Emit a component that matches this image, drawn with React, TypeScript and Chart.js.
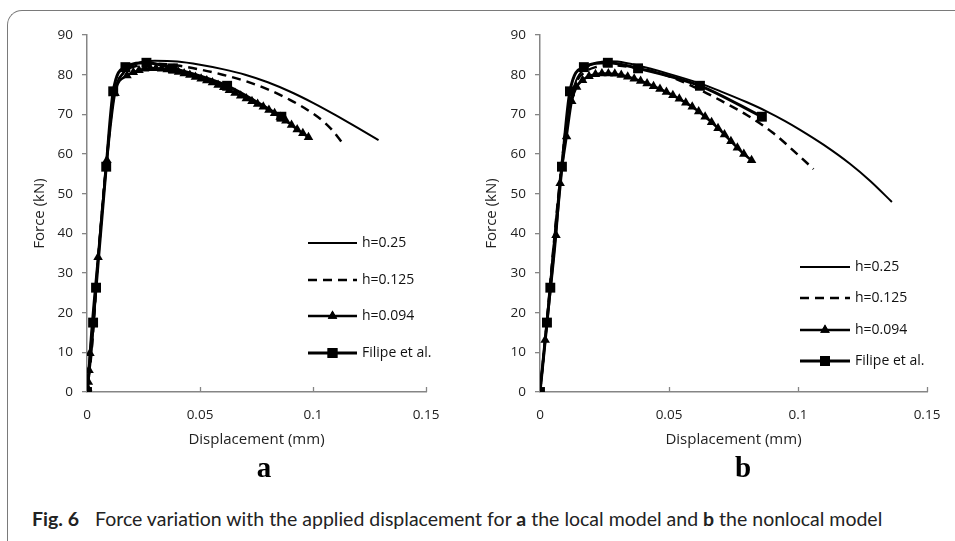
import React, { useEffect, useRef } from 'react';
import { Chart, registerables } from 'chart.js';
import { drawPoint } from 'chart.js/helpers';

Chart.register(...registerables);

// ---------- tick labels & names ----------
const xTickLabels = ['0', '0.05', '0.1', '0.15'];
const yTickLabels = ['0', '10', '20', '30', '40', '50', '60', '70', '80', '90'];
const seriesNames = ['h=0.25', 'h=0.125', 'h=0.094', 'Filipe et al.'];

// ---------- experimental (Filipe et al.) ----------
const filipeX = [0, 0.0027, 0.004, 0.0085, 0.0116, 0.017, 0.0263, 0.038, 0.062, 0.086];
const filipeY = [0, 17.5, 26.3, 56.8, 75.8, 81.9, 83.0, 81.6, 77.2, 69.4];

// ---------- (a) local model ----------
const aH025X = [0, 0.002, 0.005, 0.0085, 0.012, 0.016, 0.022, 0.03, 0.04, 0.05, 0.06, 0.07, 0.08, 0.09, 0.1, 0.11, 0.12, 0.129];
const aH025Y = [0, 10, 34, 57.5, 75, 80.5, 82.8, 83.5, 83.3, 82.5, 81.4, 80.0, 78.1, 75.7, 72.9, 69.8, 66.5, 63.5];

const aH0125X = [0, 0.002, 0.005, 0.0085, 0.012, 0.016, 0.022, 0.03, 0.04, 0.05, 0.06, 0.07, 0.08, 0.09, 0.1, 0.105, 0.109, 0.113];
const aH0125Y = [0, 10, 34, 57.5, 75, 80.3, 82.2, 82.8, 82.3, 81.3, 80.0, 78.4, 76.3, 73.6, 70.2, 68.0, 65.7, 62.8];

const aH0094X = [0, 0.0003, 0.0006, 0.0009, 0.0013, 0.0049, 0.0088, 0.0124, 0.0177, 0.0205, 0.023, 0.0255, 0.028, 0.0305, 0.033, 0.0355, 0.038, 0.0405, 0.043, 0.0455, 0.048, 0.0505, 0.053, 0.0555, 0.058, 0.0605, 0.063, 0.0655, 0.068, 0.0705, 0.073, 0.0755, 0.078, 0.0805, 0.083, 0.0855, 0.088, 0.0905, 0.093, 0.0955, 0.098];
const aH0094Y = [0, 1, 2.5, 5.5, 9.8, 34, 58.4, 75.3, 79.8, 80.6, 81.1, 81.5, 81.6, 81.6, 81.5, 81.3, 81.0, 80.7, 80.3, 79.9, 79.4, 79.0, 78.5, 78.0, 77.4, 76.8, 76.1, 75.4, 74.7, 74.0, 73.3, 72.6, 71.9, 71.1, 70.3, 69.3, 68.4, 67.3, 66.2, 65.2, 64.2];

// ---------- (b) nonlocal model ----------
const bH025X = [0, 0.002, 0.005, 0.008, 0.011, 0.014, 0.018, 0.022, 0.026, 0.03, 0.038, 0.05, 0.062, 0.07, 0.08, 0.088, 0.095, 0.1008, 0.11, 0.12, 0.128, 0.1364];
const bH025Y = [0, 13, 35, 55, 71, 78.5, 81.8, 83.0, 83.4, 83.3, 82.3, 80.2, 77.8, 75.8, 73.1, 70.7, 68.3, 66.1, 62.3, 57.6, 53.2, 47.9];

const bH0125X = [0, 0.002, 0.005, 0.008, 0.011, 0.014, 0.018, 0.022, 0.026, 0.03, 0.04, 0.05, 0.06, 0.07, 0.08, 0.09, 0.1, 0.106];
const bH0125Y = [0, 13, 35, 55, 71, 78, 80.9, 82.0, 82.4, 82.3, 81.4, 79.6, 76.8, 73.5, 69.9, 65.5, 59.8, 56.2];

const bH0094X = [0, 0.002, 0.0062, 0.0078, 0.0103, 0.0123, 0.0142, 0.0165, 0.019, 0.0215, 0.024, 0.0265, 0.029, 0.0315, 0.034, 0.0365, 0.039, 0.0415, 0.044, 0.0465, 0.049, 0.0515, 0.054, 0.0565, 0.059, 0.0615, 0.064, 0.0665, 0.069, 0.0715, 0.074, 0.0765, 0.079, 0.082];
const bH0094Y = [0, 13.1, 39.5, 52.6, 64.4, 73.3, 76.9, 78.6, 79.6, 80.1, 80.3, 80.3, 80.2, 79.9, 79.5, 79.0, 78.4, 77.8, 77.1, 76.4, 75.6, 74.8, 73.9, 72.9, 71.9, 70.7, 69.4, 68.0, 66.5, 64.9, 63.2, 61.6, 60.0, 58.4];

const AXIS = '#858585';
const FONT = "'Open Sans', sans-serif";
const CANVAS_TOP = 18;
const CANVAS_H = 437;

const pts = (xs: number[], ys: number[]) => xs.map((x, i) => ({ x, y: ys[i] }));

const xInnerTicks = {
  id: 'xInnerTicks',
  afterDraw(chart: any) {
    const xs = chart.scales.x;
    const ctx = chart.ctx;
    const b = chart.chartArea.bottom;
    ctx.save();
    ctx.strokeStyle = AXIS;
    ctx.lineWidth = 1.3;
    xs.ticks.forEach((t: any) => {
      if (t.value === 0) return;
      const px = Math.round(xs.getPixelForValue(t.value)) + 0.5;
      ctx.beginPath();
      ctx.moveTo(px, b);
      ctx.lineTo(px, b - 5);
      ctx.stroke();
    });
    ctx.restore();
  },
};

const customLegend = {
  id: 'customLegend',
  afterDraw(chart: any, _args: any, opts: any) {
    const { ctx, chartArea } = chart;
    ctx.save();
    chart.data.datasets.forEach((ds: any, i: number) => {
      const y = Math.round(chartArea.top + opts.dy + i * opts.gap);
      const x0 = chartArea.left + opts.dx;
      const x1 = x0 + opts.len;
      ctx.strokeStyle = '#000';
      ctx.lineWidth = ds.borderWidth;
      ctx.setLineDash(ds.borderDash || []);
      ctx.beginPath();
      ctx.moveTo(x0, y);
      ctx.lineTo(x1, y);
      ctx.stroke();
      ctx.setLineDash([]);
      if (ds.pointRadius > 0) {
        ctx.fillStyle = '#000';
        drawPoint(ctx, { pointStyle: ds.pointStyle, radius: ds.pointRadius, borderWidth: 0, rotation: 0 }, (x0 + x1) / 2, y);
        ctx.fill();
      }
      ctx.fillStyle = '#111';
      ctx.font = `14px ${FONT}`;
      ctx.textBaseline = 'middle';
      ctx.textAlign = 'left';
      ctx.fillText(seriesNames[i], x1 + 5, y);
    });
    ctx.restore();
  },
};

function makeDatasets(s025: any[], s0125: any[], s0094: any[], sF: any[]) {
  return [
    {
      label: seriesNames[0], data: s025, borderColor: '#000', backgroundColor: '#000',
      borderWidth: 2, pointRadius: 0, cubicInterpolationMode: 'monotone', order: 3,
    },
    {
      label: seriesNames[1], data: s0125, borderColor: '#000', backgroundColor: '#000',
      borderWidth: 2.5, borderDash: [9, 6], pointRadius: 0, cubicInterpolationMode: 'monotone', order: 2,
    },
    {
      label: seriesNames[2], data: s0094, borderColor: '#000', backgroundColor: '#000',
      borderWidth: 2.5, pointRadius: 5.5, pointStyle: 'triangle', pointBorderWidth: 0,
      cubicInterpolationMode: 'monotone', order: 1,
    },
    {
      label: seriesNames[3], data: sF, borderColor: '#000', backgroundColor: '#000',
      borderWidth: 3, pointRadius: 7, pointStyle: 'rect', pointBorderWidth: 0,
      cubicInterpolationMode: 'monotone', order: 0,
    },
  ];
}

function makeOptions(padLeft: number, padRight: number, yWidth: number, legend: any) {
  return {
    responsive: false,
    animation: false,
    layout: { padding: { left: padLeft, right: padRight, top: 0, bottom: 0 } },
    plugins: {
      legend: { display: false },
      tooltip: { enabled: false },
      customLegend: legend,
    },
    scales: {
      x: {
        type: 'linear',
        min: 0,
        max: 0.15,
        afterFit: (s: any) => { s.height = 63; },
        ticks: {
          stepSize: 0.05,
          padding: 15,
          color: '#222',
          font: { family: FONT, size: 13.5, lineHeight: '16px' },
          callback: (_v: any, i: number) => xTickLabels[i],
        },
        grid: { display: false, drawTicks: false },
        border: { display: true, color: AXIS, width: 1.5 },
        title: {
          display: true,
          text: 'Displacement (mm)',
          color: '#222',
          font: { family: FONT, size: 15, lineHeight: '18px' },
          padding: { top: 4, bottom: 6 },
        },
      },
      y: {
        type: 'linear',
        min: 0,
        max: 90,
        afterFit: (s: any) => { s.width = yWidth; },
        ticks: {
          stepSize: 10,
          padding: 9,
          color: '#222',
          font: { family: FONT, size: 13.5, lineHeight: '16px' },
          callback: (_v: any, i: number) => yTickLabels[i],
        },
        grid: { display: true, drawOnChartArea: false, drawTicks: true, tickLength: 5, color: AXIS, lineWidth: 1.3 },
        border: { display: true, color: AXIS, width: 1.5 },
        title: {
          display: true,
          text: 'Force (kN)',
          color: '#222',
          font: { family: FONT, size: 15, lineHeight: '18px' },
          padding: { top: 3, bottom: 4 },
        },
      },
    },
  };
}

function ChartPanel(props: { left: number; width: number; padLeft: number; padRight: number; yWidth: number; legend: any; sets: any[] }) {
  const ref = useRef<HTMLCanvasElement>(null);
  useEffect(() => {
    if (!ref.current) return;
    const chart = new Chart(ref.current, {
      type: 'line',
      data: { datasets: props.sets as any },
      options: makeOptions(props.padLeft, props.padRight, props.yWidth, props.legend) as any,
      plugins: [xInnerTicks, customLegend],
    });
    return () => chart.destroy();
  }, []);
  return (
    <canvas
      ref={ref}
      width={props.width}
      height={CANVAS_H}
      style={{ position: 'absolute', left: props.left, top: CANVAS_TOP, width: props.width, height: CANVAS_H }}
    />
  );
}

export default function App() {
  const setsA = makeDatasets(pts(aH025X, aH025Y), pts(aH0125X, aH0125Y), pts(aH0094X, aH0094Y), pts(filipeX, filipeY));
  const setsB = makeDatasets(pts(bH025X, bH025Y), pts(bH0125X, bH0125Y), pts(bH0094X, bH0094Y), pts(filipeX, filipeY));
  return (
    <div style={{ position: 'absolute', left: 0, top: 0, width: 955, height: 541, background: '#fff', overflow: 'hidden' }}>
      <div
        style={{
          position: 'absolute', left: 7, top: 10, width: 980, height: 560,
          borderTop: '1.5px solid #7a7a7a', borderLeft: '1.5px solid #7a7a7a', borderTopLeftRadius: 15,
        }}
      />
      <ChartPanel left={20} width={438} padLeft={8} padRight={32} yWidth={59}
        legend={{ dx: 221, dy: 208, gap: 36.7, len: 49 }} sets={setsA} />
      <ChartPanel left={470} width={489} padLeft={10} padRight={32} yWidth={60}
        legend={{ dx: 260, dy: 232, gap: 31.3, len: 50 }} sets={setsB} />
      <div style={{ position: 'absolute', left: 234, width: 60, top: 452, textAlign: 'center',
        fontFamily: "'Liberation Serif', serif", fontWeight: 700, fontSize: 29, lineHeight: '30px' }}>a</div>
      <div style={{ position: 'absolute', left: 713, width: 60, top: 452, textAlign: 'center',
        fontFamily: "'Liberation Serif', serif", fontWeight: 700, fontSize: 29, lineHeight: '30px' }}>b</div>
      <div style={{ position: 'absolute', left: 32, top: 506, whiteSpace: 'nowrap',
        fontFamily: "Lato, sans-serif", fontSize: 19.5, lineHeight: '26px', color: '#222' }}>
        <span style={{ fontWeight: 700, marginRight: 16 }}>Fig. 6</span>
        Force variation with the applied displacement for <b>a</b> the local model and <b>b</b> the nonlocal model
      </div>
    </div>
  );
}
